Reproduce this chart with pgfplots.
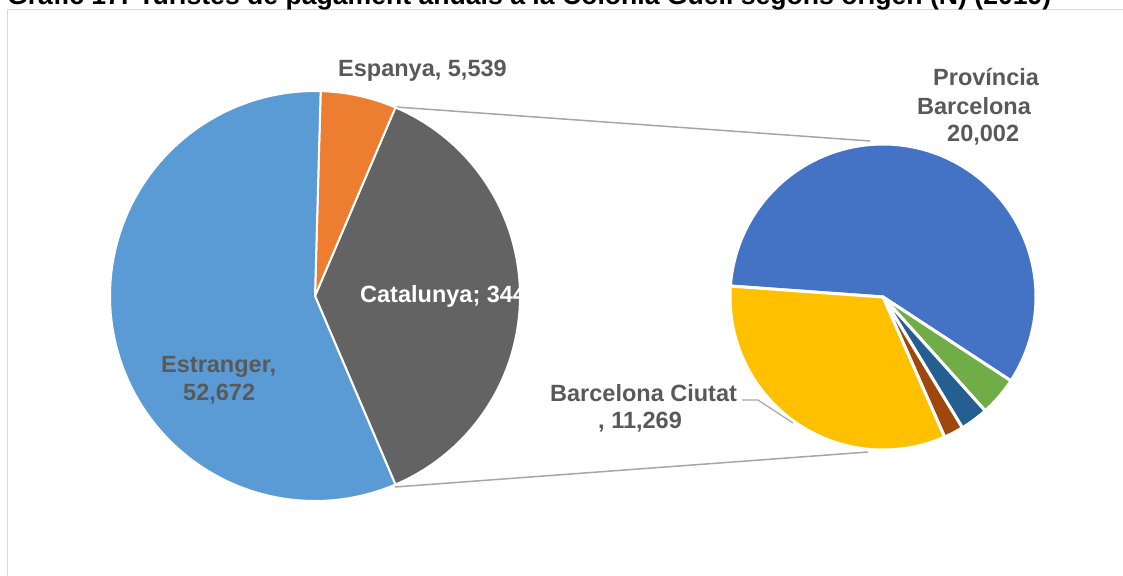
\documentclass[border=0pt]{standalone}
\usepackage{pgfplots}
\pgfplotsset{compat=1.18}
\usepackage{fontspec}
\setmainfont{Liberation Sans}
\usepackage{xfp}
\definecolor{cEst}{HTML}{5B9BD5}
\definecolor{cEsp}{HTML}{ED7D31}
\definecolor{cCat}{HTML}{636363}
\definecolor{cProv}{HTML}{4472C4}
\definecolor{cGreen}{HTML}{70AD47}
\definecolor{cDB}{HTML}{255E91}
\definecolor{cBr}{HTML}{9E480E}
\definecolor{cBcn}{HTML}{FFC000}
\definecolor{lab}{HTML}{595959}
\definecolor{conn}{HTML}{A6A6A6}
\definecolor{frame}{HTML}{D9D9D9}
% data (first pie)
\def\vEst{52672}
\def\vEsp{5539}
\def\vCat{34431}
% data (second pie: breakdown of Catalunya)
\def\vProv{20002}
\def\vGreen{1420}
\def\vDB{1020}
\def\vBr{720}
\def\vBcn{11269}
% angles
\edef\catspan{\fpeval{360*\vCat/(\vEst+\vEsp+\vCat)}}
\edef\espspan{\fpeval{360*\vEsp/(\vEst+\vEsp+\vCat)}}
\edef\aA{\fpeval{-\catspan/2}}
\edef\aB{\fpeval{\catspan/2}}
\edef\aC{\fpeval{\catspan/2+\espspan}}
\edef\aD{\fpeval{360-\catspan/2}}
\def\bZ{175.9}
\edef\bA{\fpeval{\bZ-360*\vProv/\vCat}}
\edef\bB{\fpeval{\bA-360*\vGreen/\vCat}}
\edef\bC{\fpeval{\bB-360*\vDB/\vCat}}
\edef\bD{\fpeval{\bC-360*\vBr/\vCat}}
\edef\bE{\fpeval{\bZ-360}}
\newcommand{\slice}[7]{%
  \addplot[fill=#6, draw=white, line width=#7, line join=round, domain=#4:#5, samples=90, variable=\t]
    ({#1+#3*cos(\t)},{#2-#3*sin(\t)}) -- (axis cs:#1,#2) -- cycle;
}
\begin{document}
\begin{tikzpicture}
\useasboundingbox (0,0) rectangle (1123pt,575pt);
\clip (0,0) rectangle (1123pt,575pt);
\begin{axis}[at={(0,0)}, anchor=south west, width=1123pt, height=575pt, scale only axis,
  xmin=0, xmax=1123, ymin=0, ymax=575, y dir=reverse, hide axis, clip=false]
% frame and title
\draw[frame, line width=1.5pt] (axis cs:7.5,9.5) rectangle (axis cs:1145,600);
\node[anchor=base west, inner sep=0, font=\fontsize{26.6}{30}\selectfont\bfseries] at (axis cs:7,5)
  {Gràfic 17. Turistes de pagament anuals a la Colònia Güell segons origen (N) (2019)};
% connectors
\draw[conn, line width=1.5pt] (axis cs:396,107) -- (axis cs:870,141);
\draw[conn, line width=1.5pt] (axis cs:395,487) -- (axis cs:868,452);
% first pie
\slice{315}{296}{205}{\aA}{\aB}{cCat}{2pt}
\slice{315}{296}{205}{\aB}{\aC}{cEsp}{2pt}
\slice{315}{296}{205}{\aC}{\aD}{cEst}{2pt}
% second pie
\slice{883}{297}{153}{\bA}{\bZ}{cProv}{3pt}
\slice{883}{297}{153}{\bB}{\bA}{cGreen}{3pt}
\slice{883}{297}{153}{\bC}{\bB}{cDB}{3pt}
\slice{883}{297}{153}{\bD}{\bC}{cBr}{3pt}
\slice{883}{297}{153}{\bE}{\bD}{cBcn}{3pt}
% leader
\draw[conn, line width=1.2pt] (axis cs:742,400) -- (axis cs:758,400) -- (axis cs:793,423);
% labels
\begin{scope}[every node/.style={anchor=base west, inner sep=0, text=lab, font=\fontsize{23.5}{28}\selectfont\bfseries}]
\node at (axis cs:338,77) {Espanya, 5,539};
\node at (axis cs:933,86) {Província};
\node at (axis cs:917,114) {Barcelona};
\node at (axis cs:947,141) {20,002};
\node at (axis cs:550,401) {Barcelona Ciutat};
\node at (axis cs:598,428) {, 11,269};
\node at (axis cs:161,372) {Estranger,};
\node at (axis cs:183,400) {52,672};
\node[text=white] at (axis cs:360,302) {Catalunya; 34431};
\end{scope}
\end{axis}
\end{tikzpicture}
\end{document}
